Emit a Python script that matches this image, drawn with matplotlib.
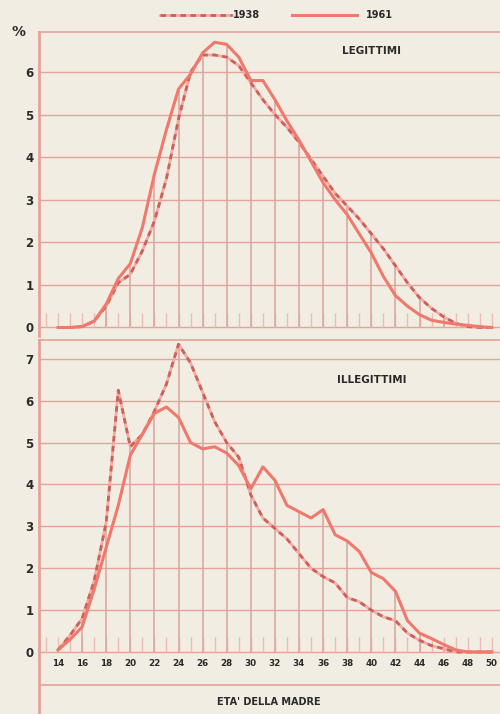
"""Age-of-mother distribution of births, 1938 vs 1961 (legittimi / illegittimi)."""

import matplotlib

matplotlib.use("Agg")

import matplotlib.pyplot as plt
import numpy as np
from matplotlib.lines import Line2D

ages = list(range(14, 51))

# percent of births by age of mother
leg_1938 = [0, 0, 0.02, 0.15, 0.5, 1.05, 1.25, 1.8, 2.5, 3.5, 4.9, 6.0, 6.4, 6.4,
            6.35, 6.15, 5.75, 5.35, 5.0, 4.7, 4.35, 3.95, 3.55, 3.15, 2.85, 2.55,
            2.2, 1.85, 1.45, 1.05, 0.7, 0.45, 0.25, 0.1, 0.02, 0, 0]
leg_1961 = [0, 0, 0.02, 0.15, 0.55, 1.15, 1.5, 2.35, 3.6, 4.65, 5.6, 5.95, 6.45,
            6.7, 6.65, 6.35, 5.8, 5.8, 5.35, 4.85, 4.4, 3.9, 3.4, 3.0, 2.65, 2.2,
            1.75, 1.2, 0.75, 0.5, 0.3, 0.17, 0.12, 0.08, 0.05, 0.02, 0]
ill_1938 = [0.05, 0.4, 0.8, 1.7, 3.1, 6.25, 4.9, 5.2, 5.75, 6.4, 7.35, 6.9, 6.2,
            5.5, 5.0, 4.65, 3.75, 3.2, 2.95, 2.7, 2.35, 2.0, 1.8, 1.65, 1.3, 1.2,
            1.0, 0.84, 0.75, 0.45, 0.28, 0.15, 0.08, 0, 0, 0, 0]
ill_1961 = [0.05, 0.3, 0.6, 1.5, 2.5, 3.5, 4.7, 5.2, 5.7, 5.85, 5.6, 5.0, 4.85,
            4.9, 4.75, 4.45, 3.9, 4.42, 4.1, 3.5, 3.35, 3.2, 3.4, 2.8, 2.65, 2.4,
            1.9, 1.75, 1.45, 0.75, 0.45, 0.32, 0.18, 0.05, 0, 0, 0]

xtick_labels = list(range(14, 51, 2))

BG = "#f1ede2"
RED = "#f0786c"
PINK = "#f4aaa2"
DASH = "#c9625c"
GRID = "#e6a29a"
VLINE = "#d8a59c"
TEXT = "#2a2a2a"

fig = plt.figure(figsize=(5.0, 7.14), dpi=100, facecolor=BG)

XLIM = (12.42, 50.68)
ax_top = fig.add_axes([0.078, 1 - 336 / 714, 0.922, (336 - 32) / 714])
ax_bot = fig.add_axes([0.078, 0.0, 0.922, (714 - 340) / 714])


def draw_panel(ax, y38, y61, ymax, ylim, label, label_y):
    ax.set_facecolor(BG)
    ax.set_xlim(*XLIM)
    ax.set_ylim(*ylim)
    for s in ax.spines.values():
        s.set_visible(False)
    ax.spines["left"].set_visible(True)
    ax.spines["left"].set_color(GRID)
    ax.spines["left"].set_linewidth(2)
    ax.spines["top"].set_visible(True)
    ax.spines["top"].set_color(GRID)
    ax.spines["top"].set_linewidth(1.2)

    for v in range(0, ymax + 1):
        ax.axhline(v, color=GRID, lw=1.0, zorder=1)

    # short year ticks along the base
    ax.vlines(range(13, 51), 0, 0.35, color="#ebbcb2", lw=1.0, zorder=1)
    # drop lines at even ages up to the higher curve
    a = np.array(ages)
    top = np.maximum(y38, y61)
    even = a % 2 == 0
    ax.vlines(a[even], 0, top[even], color=VLINE, lw=1.1, zorder=1)

    ax.plot(ages, y38, color=PINK, lw=2.0, zorder=3, solid_capstyle="round")
    ax.plot(ages, y38, color=DASH, lw=2.0, zorder=4, dashes=(2.0, 1.6))
    ax.plot(ages, y61, color=RED, lw=2.2, zorder=5, solid_joinstyle="round")

    ax.set_yticks(range(0, ymax + 1))
    ax.set_yticklabels([str(v) for v in range(0, ymax + 1)], fontsize=8.5,
                       fontweight="bold", color=TEXT)
    ax.tick_params(axis="y", length=0, pad=4)
    ax.set_xticks([])
    ax.text(40, label_y, label, fontsize=7.5, color=TEXT, ha="center",
            va="center", fontweight="bold")


draw_panel(ax_top, np.array(leg_1938), np.array(leg_1961), 6, (-0.2, 6.94),
           "LEGITTIMI", 6.5)
draw_panel(ax_bot, np.array(ill_1938), np.array(ill_1961), 7, (-1.48, 7.45),
           "ILLEGITTIMI", 6.5)

# x labels and the axis title strip below the lower panel
for t in xtick_labels:
    ax_bot.text(t, -0.28, str(t), fontsize=6.3, color=TEXT, ha="center",
                va="center", fontweight="bold")
ax_bot.axhline(-0.78, color=GRID, lw=1.2)
ax_bot.text(31.5, -1.2, "ETA' DELLA MADRE", fontsize=7, color=TEXT,
            ha="center", va="center", fontweight="bold")

fig.text(18 / 500, 1 - 32 / 714, "%", fontsize=10, fontweight="bold",
         color=TEXT, ha="center", va="center")

# legend strip
ly = 1 - 15 / 714
fig.add_artist(Line2D([160 / 500, 232 / 500], [ly, ly], color=PINK, lw=2.0,
                      transform=fig.transFigure))
fig.add_artist(Line2D([160 / 500, 232 / 500], [ly, ly], color=DASH, lw=2.0,
                      dashes=(2.0, 1.6), transform=fig.transFigure))
fig.text(233 / 500, ly, "1938", fontsize=7, fontweight="bold", color=TEXT,
         va="center")
fig.add_artist(Line2D([292 / 500, 357 / 500], [ly, ly], color=RED, lw=2.2,
                      transform=fig.transFigure))
fig.text(366 / 500, ly, "1961", fontsize=7, fontweight="bold", color=TEXT,
         va="center")

fig.savefig("out.png", dpi=100, facecolor=BG)
plt.close(fig)
